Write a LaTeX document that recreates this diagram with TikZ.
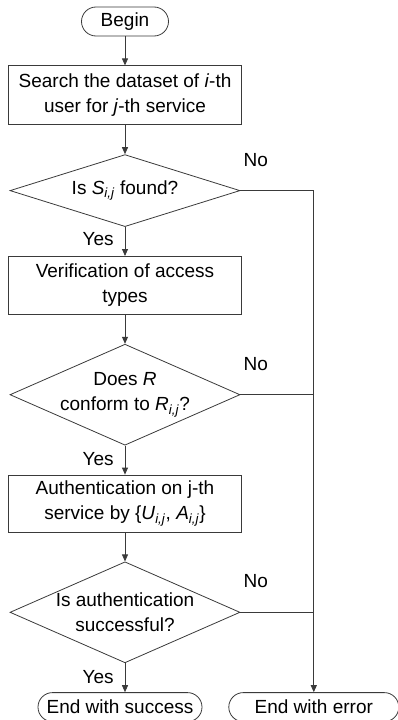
\documentclass[tikz,border=0pt]{standalone}
\usepackage{fontspec}
\setmainfont{Liberation Sans}
\usetikzlibrary{positioning,shapes.geometric,arrows.meta}
\newcommand{\chartfont}{\fontsize{19}{25}\selectfont}
\definecolor{lineclr}{HTML}{3A3A3A}
\tikzset{
  term/.style     = {draw=lineclr, line width=0.8pt, rounded corners=14.5pt, minimum height=29pt, inner sep=2pt, font=\chartfont},
  process/.style  = {draw=lineclr, line width=0.8pt, minimum width=233pt, align=center, inner sep=2pt, font=\chartfont},
  decision/.style = {draw=lineclr, line width=0.8pt, diamond, minimum width=230pt, minimum height=101pt, inner sep=0pt},
  qtext/.style    = {align=center, inner sep=0pt, font=\chartfont},
  lbl/.style      = {inner sep=0pt, font=\chartfont},
  flow/.style     = {-{Triangle[length=7pt,width=6pt]}, line width=0.8pt, draw=lineclr},
  line/.style     = {line width=0.8pt, draw=lineclr},
}

\begin{document}
\begin{tikzpicture}[node distance=29pt]

\useasboundingbox (-125pt,21.5pt) rectangle (273pt,-698.5pt);

%% main column
\node[term, minimum width=87pt] (begin) at (0,0) {Begin};
\node[process, minimum height=59pt, below=of begin] (search)
  {Search the dataset of \textit{i}-th\\user for \textit{j}-th service};
\node[decision, minimum height=72pt, below=of search] (found) {};
\node[qtext] (foundq) at (found) {Is \textit{S}\textsubscript{\textit{i,j}} found?};
\node[process, minimum height=58pt, below=of found] (verify)
  {Verification of access\\types};
\node[decision, below=of verify] (conform) {};
\node[qtext] (conformq) at (conform) {Does \textit{R}\\conform to \textit{R}\textsubscript{\textit{i,j}}?};
\node[process, minimum height=57pt, below=of conform] (auth)
  {Authentication on j-th\\service by \{\textit{U}\textsubscript{\textit{i,j}}, \textit{A}\textsubscript{\textit{i,j}}\}};
\node[decision, below=of auth] (ok) {};
\node[qtext] (okq) at (ok) {Is authentication\\successful?};

%% ends
\node[term, minimum width=164pt, below=of ok, xshift=-5pt] (succ) {End with success};
\node[term, minimum width=170pt, right=26pt of succ] (err) {End with error};

%% "No" labels
\node[lbl, above right=24pt and 3pt of found.east] (no1) {No};
\node[lbl, above right=24pt and 3pt of conform.east] (no2) {No};
\node[lbl, above right=24pt and 3pt of ok.east] (no3) {No};

%% flows
\draw[flow] (begin) -- (search);
\draw[flow] (search) -- (found);
\draw[flow] (found) -- node[lbl, pos=0.42, left=11pt] (yes1) {Yes} (verify);
\draw[flow] (verify) -- (conform);
\draw[flow] (conform) -- node[lbl, pos=0.45, left=11pt] (yes2) {Yes} (auth);
\draw[flow] (auth) -- (ok);
\draw[flow] (ok) -- node[lbl, pos=0.47, left=11pt] (yes3) {Yes} (ok.south |- succ.north);
\draw[flow] (found.east) -| (err.north);
\draw[line] (conform.east) -- (conform.east -| err.north);
\draw[line] (ok.east) -- (ok.east -| err.north);

\end{tikzpicture}
\end{document}
